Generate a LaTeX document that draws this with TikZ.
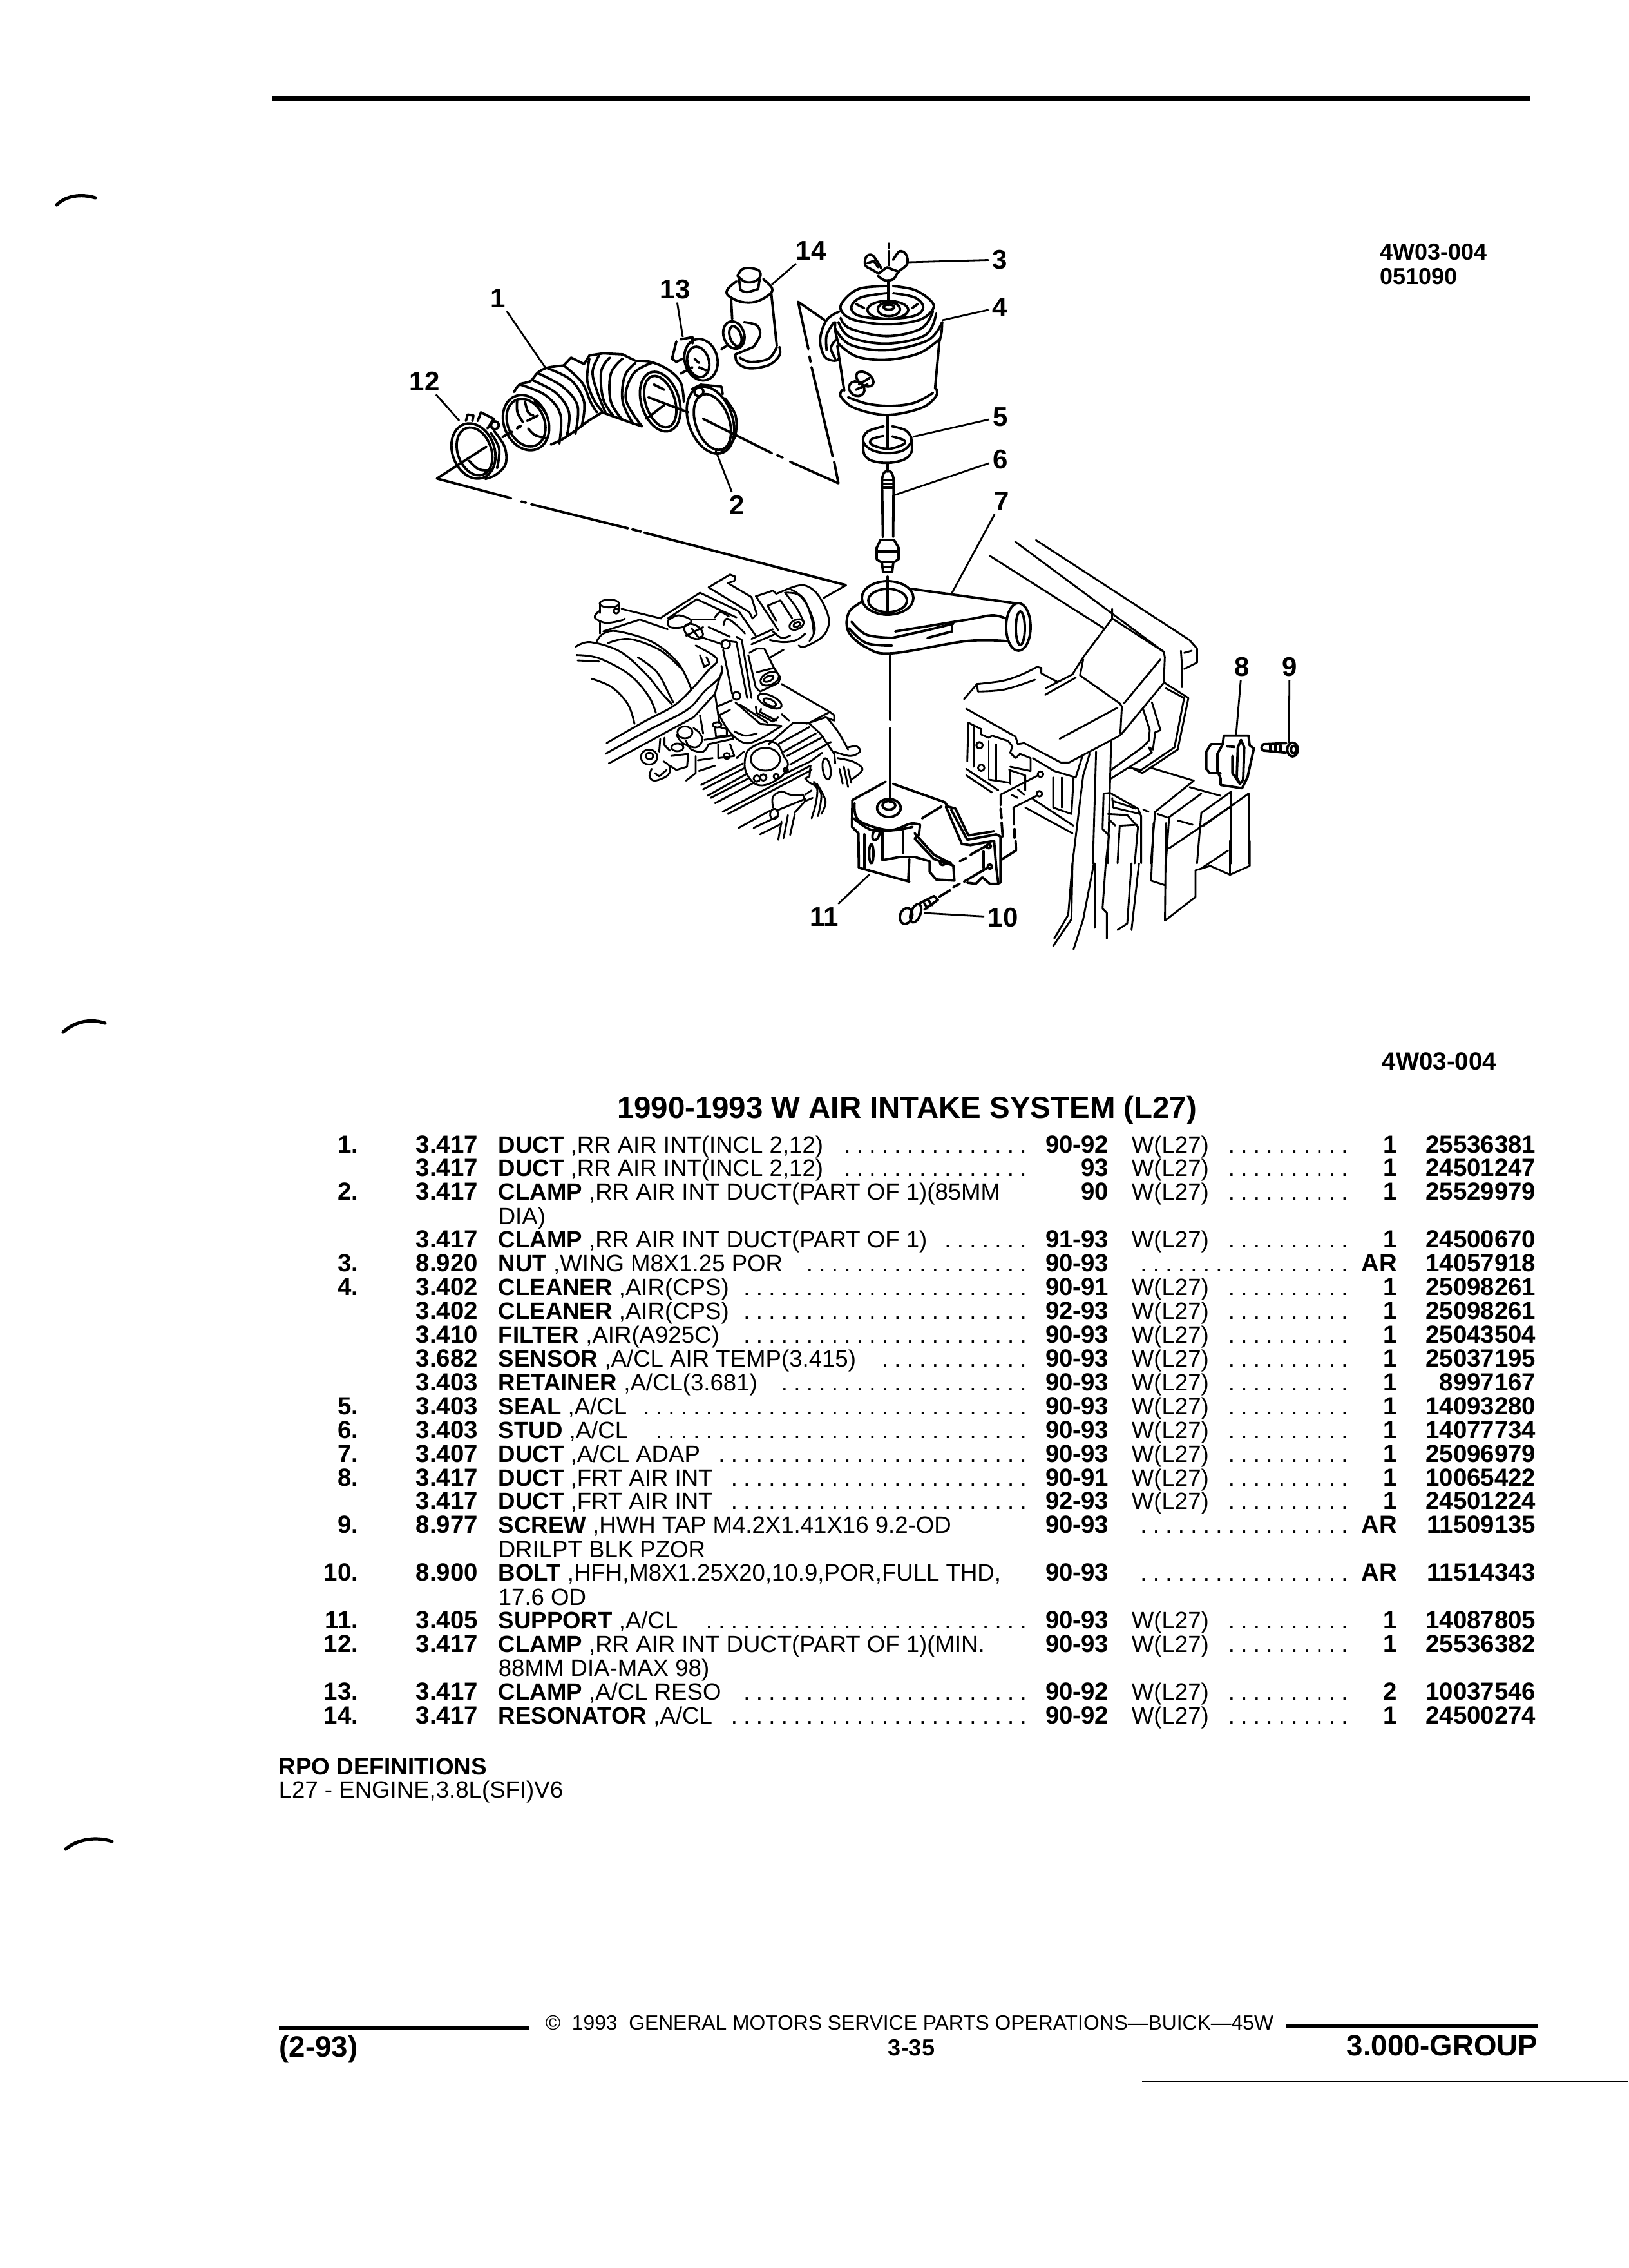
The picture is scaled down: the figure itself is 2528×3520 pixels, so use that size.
\documentclass[tikz,border=0pt]{standalone}
\usepackage{fontspec}
\setmainfont{Liberation Sans}
\newlength\dotgap
\setlength\dotgap{4.875pt}
\newcommand{\dotrun}[1]{\hbox to #1\dotgap{\cleaders\hbox to \dotgap{\hss.\hss}\hfill}}
\tikzset{
	crop/.style={shift={#1},x=0.08333pt,y=-0.08333pt},
	partline/.style={draw=black, line width=0.95pt, line cap=round, line join=round},
	fineparts/.style={partline/.style={draw=black, line width=0.72pt, line cap=round, line join=round}},
	curveline/.style={partline, smooth, tension=0.6},
	leaderline/.style={draw=black, line width=0.7pt},
	callnum/.style={inner sep=1.2pt, font=\fontsize{10.5}{12}\selectfont\bfseries},
	cell/.style={inner sep=0pt, font=\fontsize{9.15}{11}\selectfont},
	boldcell/.style={inner sep=0pt, font=\fontsize{9.6}{11}\selectfont\bfseries},
	headrule/.style={draw=black, line width=2.2pt}
}
\begin{document}
\begin{tikzpicture}[x=0.25pt, y=-0.25pt]
\useasboundingbox (0,0) rectangle (2528,3520);

% page furniture
\coordinate (topl) at (423,153);
\coordinate (topr) at (2376,153);
\draw[headrule] (topl) -- (topr);
\draw[line width=1.3pt, line cap=round] (88,318) .. controls (102,304) and (125,300) .. (148,307);
\draw[line width=1.3pt, line cap=round] (98,1602) .. controls (115,1586) and (140,1580) .. (163,1588);
\draw[line width=1.3pt, line cap=round] (102,2870) .. controls (120,2854) and (150,2850) .. (174,2858);
\node[boldcell, anchor=base west, font=\fontsize{9}{11}\selectfont\bfseries] (fig1) at (2142,404){4W03-004};
\node[boldcell, anchor=base west, font=\fontsize{9}{11}\selectfont\bfseries] (fig2) at (2142,441){051090};
\node[boldcell, anchor=base west] (fig3) at (2145,1660){4W03-004};
\node[inner sep=0pt, anchor=base, font=\fontsize{11.85}{13}\selectfont\bfseries] (title) at (1408,1735){1990-1993 W AIR INTAKE SYSTEM (L27)};

% parts list
\foreach \k/\itm/\cde/\wrd/\rst/\nd/\yrs/\wl/\nw/\qty/\prt in {
	0/1./3.417/DUCT/{,RR AIR INT(INCL 2,12)}/15/90-92/{W(L27)}/10/1/25536381,
	1/{}/3.417/DUCT/{,RR AIR INT(INCL 2,12)}/15/93/{W(L27)}/10/1/24501247,
	2/2./3.417/CLAMP/{,RR AIR INT DUCT(PART OF 1)(85MM}/0/90/{W(L27)}/10/1/25529979,
	4/{}/3.417/CLAMP/{,RR AIR INT DUCT(PART OF 1)}/7/91-93/{W(L27)}/10/1/24500670,
	5/3./8.920/NUT/{,WING M8X1.25 POR}/18/90-93/{}/17/AR/14057918,
	6/4./3.402/CLEANER/{,AIR(CPS)}/23/90-91/{W(L27)}/10/1/25098261,
	7/{}/3.402/CLEANER/{,AIR(CPS)}/23/92-93/{W(L27)}/10/1/25098261,
	8/{}/3.410/FILTER/{,AIR(A925C)}/23/90-93/{W(L27)}/10/1/25043504,
	9/{}/3.682/SENSOR/{,A/CL AIR TEMP(3.415)}/12/90-93/{W(L27)}/10/1/25037195,
	10/{}/3.403/RETAINER/{,A/CL(3.681)}/20/90-93/{W(L27)}/10/1/8997167,
	11/5./3.403/SEAL/{,A/CL}/31/90-93/{W(L27)}/10/1/14093280,
	12/6./3.403/STUD/{,A/CL}/30/90-93/{W(L27)}/10/1/14077734,
	13/7./3.407/DUCT/{,A/CL ADAP}/25/90-93/{W(L27)}/10/1/25096979,
	14/8./3.417/DUCT/{,FRT AIR INT}/24/90-91/{W(L27)}/10/1/10065422,
	15/{}/3.417/DUCT/{,FRT AIR INT}/24/92-93/{W(L27)}/10/1/24501224,
	16/9./8.977/SCREW/{,HWH TAP M4.2X1.41X16 9.2-OD}/0/90-93/{}/17/AR/11509135,
	18/10./8.900/BOLT/{,HFH,M8X1.25X20,10.9,POR,FULL THD,}/0/90-93/{}/17/AR/11514343,
	20/11./3.405/SUPPORT/{,A/CL}/26/90-93/{W(L27)}/10/1/14087805,
	21/12./3.417/CLAMP/{,RR AIR INT DUCT(PART OF 1)(MIN.}/0/90-93/{W(L27)}/10/1/25536382,
	23/13./3.417/CLAMP/{,A/CL RESO}/23/90-92/{W(L27)}/10/2/10037546,
	24/14./3.417/RESONATOR/{,A/CL}/24/90-92/{W(L27)}/10/1/24500274}{
	\pgfmathsetmacro{\rowy}{1789+36.93*\k}
	\node[boldcell, anchor=base east] (itm\k) at (557,\rowy){\itm};
	\node[boldcell, anchor=base west] (cde\k) at (645,\rowy){\cde};
	\node[cell, anchor=base west] (dsc\k) at (773,\rowy){\textbf{\wrd} \rst};
	\node[cell, anchor=base east] (lead\k) at (1599,\rowy){\dotrun{\nd}};
	\node[boldcell, anchor=base east] (yrs\k) at (1722,\rowy){\yrs};
	\node[cell, anchor=base west] (wl\k) at (1756,\rowy){\wl};
	\node[cell, anchor=base east] (rest\k) at (2098,\rowy){\dotrun{\nw}};
	\node[boldcell, anchor=base east] (qty\k) at (2170,\rowy){\qty};
	\node[boldcell, anchor=base east] (prt\k) at (2385,\rowy){\prt};
}
\node[cell, anchor=base west] (more3) at (773,1900){DIA)};
\node[cell, anchor=base west] (more17) at (773,2417){DRILPT BLK PZOR};
\node[cell, anchor=base west] (more19) at (773,2491){17.6 OD};
\node[cell, anchor=base west] (more22) at (773,2601){88MM DIA-MAX 98)};

\node[boldcell, anchor=base west, font=\fontsize{9.2}{11}\selectfont\bfseries] (rpo1) at (432,2754){RPO DEFINITIONS};
\node[cell, anchor=base west] (rpo2) at (432,2790){L27 - ENGINE,3.8L(SFI)V6};

% footer
\coordinate (foota) at (433,3147);
\coordinate (footb) at (822,3147);
\coordinate (footc) at (1996,3144);
\coordinate (footd) at (2388,3144);
\coordinate (foote) at (1773,3231);
\coordinate (footf) at (2528,3231);
\draw[line width=1.3pt] (foota) -- (footb);
\draw[line width=1.3pt] (footc) -- (footd);
\draw[line width=0.5pt] (foote) -- (footf);
\node[cell, anchor=base west, font=\fontsize{7.95}{10}\selectfont] (copy) at (846,3150){\textcopyright\ \ 1993\ \ GENERAL MOTORS SERVICE PARTS OPERATIONS---BUICK---45W};
\node[inner sep=0pt, anchor=base west, font=\fontsize{11.4}{12}\selectfont\bfseries] (issue) at (433,3192){(2-93)};
\node[inner sep=0pt, anchor=base, font=\fontsize{9}{10}\selectfont\bfseries] (page) at (1415,3190){3-35};
\node[inner sep=0pt, anchor=base east, font=\fontsize{11.4}{13}\selectfont\bfseries] (group) at (2388,3190){3.000-GROUP};

% callouts
\node[callnum] (n1) at (773,463){1};
\node[callnum] (n2) at (1144,784){2};
\node[callnum] (n3) at (1552,403){3};
\node[callnum] (n4) at (1552,477){4};
\node[callnum] (n5) at (1553,647){5};
\node[callnum] (n6) at (1553,713){6};
\node[callnum] (n7) at (1555,778){7};
\node[callnum] (n8) at (1928,1035){8};
\node[callnum] (n9) at (2002,1035){9};
\node[callnum] (n10) at (1557,1424){10};
\node[callnum] (n11) at (1280,1423){11};
\node[callnum] (n12) at (659,592){12};
\node[callnum] (n13) at (1048,449){13};
\node[callnum] (n14) at (1259,389){14};
\coordinate (t1) at (847,571);
\coordinate (t2) at (1111,699);
\coordinate (t3) at (1410,407);
\coordinate (t4) at (1463,497);
\coordinate (t5) at (1417,678);
\coordinate (t6) at (1390,768);
\coordinate (t7) at (1477,922);
\coordinate (t8) at (1919,1140);
\coordinate (t9) at (2001,1153);
\coordinate (t10) at (1435,1417);
\coordinate (t11) at (1350,1357);
\coordinate (t12) at (713,653);
\coordinate (t13) at (1060,523);
\coordinate (t14) at (1198,442);
\foreach \i in {1,...,14}{
	\draw[leaderline] (n\i) -- (t\i);
}

% hose, clamps 12 and 13
\begin{scope}[crop={(620,360)}]
	\draw[partline] (345,1020) ellipse [x radius=132, y radius=98, rotate=-70];
	\draw[partline] (350,1022) ellipse [x radius=115, y radius=78, rotate=-70];
	\draw[curveline] plot coordinates {(440,925) (490,1000) (495,1080) (450,1130) (400,1150)};
	\draw[curveline] plot coordinates {(425,935) (465,1010) (455,1100)};
	\draw[partline] (310,880) -- (318,850) -- (345,855) -- (340,880);
	\draw[partline] (365,880) -- (380,840) -- (440,870) -- (410,915);
	\draw[partline] (445,900) circle [radius=18];
	\draw[curveline] plot coordinates {(325,1065) (370,1105) (430,1110)};
	% duct mouth and ribs
	\draw[partline] (590,888) ellipse [x radius=133, y radius=102, rotate=-66];
	\draw[partline] (590,888) ellipse [x radius=115, y radius=85, rotate=-66];
	\draw[curveline] plot coordinates {(548,790) (550,840) (575,885)};
	\draw[curveline] plot coordinates {(585,790) (600,840) (625,855)};
	\draw[curveline] plot coordinates {(600,915) (630,945) (680,960)};
	\draw[curveline] plot coordinates {(630,790) (665,820) (680,845)};
	\draw[partline] (595,880) -- (645,855);
	\draw[partline] (550,910) -- (565,902);
	\draw[curveline] plot coordinates {(535,745) (560,710) (610,695) (645,655) (690,632) (765,622)};
	\draw[partline] (765,622) -- (800,585) -- (860,615) -- (885,575) -- (950,565) -- (1040,570) -- (1100,600);
	\draw[curveline] plot coordinates {(1100,600) (1170,605) (1250,640) (1310,700) (1325,790)};
	\draw[curveline] plot coordinates {(705,990) (760,965) (820,925) (880,880) (945,840)};
	\draw[curveline] plot coordinates {(945,840) (1000,860) (1070,885) (1130,905)};
	\draw[curveline] plot coordinates {(560,710) (680,760) (750,850) (745,985)};
	\draw[curveline] plot coordinates {(620,690) (730,750) (790,840) (780,950)};
	\draw[curveline] plot coordinates {(650,660) (760,720) (830,810) (820,940)};
	\draw[curveline] plot coordinates {(690,635) (800,690) (860,790) (850,900)};
	\draw[curveline] plot coordinates {(770,625) (850,700) (890,790) (920,840)};
	\draw[curveline] plot coordinates {(885,590) (875,690) (905,780) (945,835)};
	\draw[curveline] plot coordinates {(930,575) (900,650) (920,740) (960,840)};
	\draw[curveline] plot coordinates {(980,585) (940,650) (950,780) (1000,860)};
	\draw[curveline] plot coordinates {(1040,590) (985,660) (985,790) (1040,875)};
	\draw[curveline] plot coordinates {(1100,610) (1050,670) (1040,790) (1090,895)};
	\draw[curveline] plot coordinates {(1175,610) (1090,660) (1055,780) (1130,905)};
	\draw[partline] (1215,790) ellipse [x radius=143, y radius=88, rotate=-72];
	\draw[partline] (1215,790) ellipse [x radius=124, y radius=68, rotate=-72];
	\draw[partline] (1185,710) -- (1235,735);
	\draw[partline] (1150,870) -- (1235,805);
	\draw[partline] (1160,770) -- (1345,840);
	% clamp 13
	\draw[partline] (1405,595) ellipse [x radius=98, y radius=76, rotate=-75];
	\draw[partline] (1392,605) ellipse [x radius=72, y radius=50, rotate=-75];
	\draw[partline] (1290,510) -- (1270,590) -- (1290,605) -- (1320,590);
	\draw[partline] (1310,500) -- (1365,490) -- (1365,520);
	\draw[partline] (1310,660) -- (1365,630);
	\draw[partline] (1375,590) -- (1395,610);
	\draw[partline] (1395,630) -- (1430,645);
	% phantom axis for the hose
	\coordinate (axa) at (175,1148);
	\coordinate (axb) at (405,1000);
	\draw[partline] (axa) -- (axb);
	\draw[partline] (480,955) -- (525,930);
	\draw[partline] (548,915) -- (565,905);
	\draw[partline] (axa) -- (520,1240);
	\draw[partline] (568,1255) -- (590,1260);
	\draw[partline] (615,1268) -- (1065,1380);
	\draw[partline] (1085,1385) -- (1125,1395);
	\draw[partline] (1140,1400) -- (2079,1644);
\end{scope}

% clamp 2
\draw[partline] (1103,652) ellipse [x radius=54, y radius=34, rotate=-70];
\draw[partline] (1106,655) ellipse [x radius=45, y radius=26, rotate=-70];
\draw[partline] (1074,604) -- (1088,597) -- (1120,600) -- (1122,612);
\draw[partline] (1085,608) circle [radius=7];
\draw[curveline] plot coordinates {(1125,618) (1142,645) (1140,680) (1120,700)};

% resonator, cleaner, nut, seal, stud
\begin{scope}[crop={(1120,340)}]
	\draw[curveline] plot coordinates {(75,265) (95,235) (130,228) (175,240) (180,270) (150,292) (110,292) (75,265)};
	\draw[partline] (82,280) -- (88,325);
	\draw[partline] (178,280) -- (172,320);
	\draw[curveline] plot coordinates {(70,290) (30,325) (30,355) (90,385) (160,385) (225,350) (235,320) (195,280)};
	\draw[curveline] plot coordinates {(88,330) (120,340) (172,325)};
	\draw[partline] (45,375) -- (50,465);
	\draw[partline] (232,345) -- (258,590);
	\draw[curveline] plot coordinates {(65,630) (75,670) (130,695) (220,680) (270,635) (270,595)};
	\draw[curveline] plot coordinates {(85,645) (135,665) (220,650) (258,595)};
	\draw[partline] (58,540) ellipse [x radius=65, y radius=48, rotate=-72];
	\draw[partline] (65,545) ellipse [x radius=48, y radius=26, rotate=-72];
	\draw[curveline] plot coordinates {(105,480) (165,495) (180,540) (150,595)};
	\draw[partline] (150,595) -- (65,630);
	\draw[partline] (0,605) -- (25,590);
	% cleaner top
	\draw[curveline] plot coordinates {(770,312) (640,325) (565,385) (560,430) (620,470) (770,490) (920,470) (985,420) (975,380) (900,330) (800,312)};
	\draw[curveline] plot coordinates {(770,345) (650,365) (605,410) (640,450) (770,465) (900,450) (940,410) (900,365) (800,345)};
	\draw[partline] (775,423) ellipse [x radius=95, y radius=42];
	\draw[partline] (780,420) ellipse [x radius=52, y radius=32];
	\draw[partline] (780,410) ellipse [x radius=25, y radius=12];
	\draw[partline] (625,395) -- (665,415);
	\draw[partline] (915,395) -- (888,415);
	\draw[curveline] plot coordinates {(555,460) (600,510) (770,545) (930,510) (985,430)};
	\draw[curveline] plot coordinates {(545,480) (600,550) (770,580) (950,540) (1000,440)};
	\draw[curveline] plot coordinates {(530,510) (600,585) (770,610) (960,565) (1028,480)};
	\draw[curveline] plot coordinates {(545,580) (630,640) (770,655) (920,625) (1015,560)};
	\draw[curveline] plot coordinates {(1028,480) (1025,530) (1015,570)};
	\draw[curveline] plot coordinates {(530,480) (530,520) (545,580)};
	\draw[partline] (540,590) -- (572,800);
	\draw[partline] (1015,570) -- (995,790);
	\draw[curveline] plot coordinates {(565,795) (555,825) (620,880) (770,912) (930,880) (1000,825) (1000,790)};
	\draw[curveline] plot coordinates {(590,830) (680,860) (790,870) (900,855) (985,810)};
	\draw[curveline] plot coordinates {(550,430) (490,470) (460,560) (480,640) (525,660) (548,650)};
	\draw[curveline] plot coordinates {(525,480) (490,540) (490,610)};
	\draw[curveline] plot coordinates {(535,560) (510,600) (530,650)};
	\draw[partline] (668,745) ellipse [x radius=45, y radius=28, rotate=-35];
	\draw[partline] (630,790) ellipse [x radius=38, y radius=32, rotate=-35];
	\draw[partline] (625,795) -- (680,770);
	\draw[partline] (640,770) -- (690,740);
	% wing nut
	\draw[curveline] plot coordinates {(745,230) (705,170) (675,175) (670,215) (700,235) (735,255)};
	\draw[curveline] plot coordinates {(730,265) (760,285) (800,280) (825,245) (865,210) (860,165) (830,150) (800,190)};
	\draw[partline] (680,205) -- (710,195) -- (730,225);
	\draw[partline] (730,255) -- (770,225) -- (825,245);
	\draw[partline] (780,115) -- (780,135);
	\draw[partline] (780,150) -- (780,215);
	\draw[partline] (778,285) -- (778,400);
	% seal
	\draw[curveline] plot coordinates {(755,965) (680,990) (660,1035) (700,1075) (775,1090) (850,1075) (885,1030) (860,985) (795,965)};
	\draw[curveline] plot coordinates {(755,1010) (700,1025) (700,1050) (775,1070) (845,1050) (850,1030) (795,1012)};
	\draw[curveline] plot coordinates {(660,1040) (665,1095) (700,1125) (775,1135) (850,1120) (885,1085) (885,1030)};
	\draw[partline] (775,920) -- (775,1065);
	% stud
	\draw[partline] (775,1140) -- (775,1175);
	\draw[curveline] plot coordinates {(748,1210) (760,1178) (790,1178) (802,1210)};
	\draw[partline] (748,1210) -- (752,1480);
	\draw[partline] (802,1210) -- (800,1480);
	\draw[partline] (752,1215) -- (798,1215);
	\draw[partline] (752,1232) -- (798,1232);
	\draw[partline] (752,1250) -- (798,1250);
	% phantom axis for the cleaner
	\draw[partline] (-85,930) -- (235,1090);
	\draw[partline] (260,1100) -- (285,1110);
	\draw[partline] (320,1130) -- (545,1230) -- (525,1130);
	\draw[partline] (518,1105) -- (420,690);
	\draw[partline] (415,665) -- (410,640);
	\draw[partline] (405,605) -- (357,385) -- (480,470);
\end{scope}

% lower end of stud
\draw[partline] (1367,838) -- (1361,850) -- (1361,868) -- (1367,872) -- (1389,872) -- (1395,868) -- (1395,850) -- (1388,838) -- cycle;
\draw[partline] (1361,856) -- (1395,856);
\draw[partline] (1369,872) -- (1371,888) -- (1385,888) -- (1387,872);
\draw[partline] (1371,880) -- (1385,880);
\draw[partline] (1378,895) -- (1378,950);

% adapter duct and engine
\begin{scope}[crop={(880,880)}, fineparts]
	\draw[partline] (970,0) -- (1300,85) -- (1195,145);
	% throttle body
	\draw[curveline] plot coordinates {(1035,100) (1105,85) (1170,130) (1220,240) (1195,320) (1110,370) (1080,365)};
	\draw[curveline] plot coordinates {(1015,120) (1080,130) (1130,200) (1155,290) (1130,345)};
	\draw[curveline] plot coordinates {(1045,105) (1105,150) (1140,240) (1150,310)};
	\draw[curveline] plot coordinates {(1020,125) (1070,190) (1105,260)};
	\draw[partline] (885,135) -- (960,110) -- (975,125) -- (1035,100);
	\draw[partline] (935,180) -- (995,155) -- (1050,240);
	\draw[partline] (935,180) -- (975,250);
	\draw[partline] (1070,268) ellipse [x radius=35, y radius=22, rotate=25];
	\draw[partline] (1072,268) ellipse [x radius=18, y radius=10, rotate=25];
	% bracket
	\draw[partline] (660,95) -- (760,35) -- (785,45) -- (780,65) -- (750,75);
	\draw[partline] (750,75) -- (860,140) -- (885,220) -- (865,240) -- (850,210);
	\draw[partline] (660,95) -- (850,210);
	\draw[partline] (620,120) -- (800,205) -- (880,320);
	\draw[partline] (440,235) -- (620,120);
	\draw[partline] (470,240) -- (605,150) -- (790,235);
	\draw[partline] (880,135) -- (985,295);
	\draw[partline] (860,335) -- (960,290);
	\draw[partline] (860,360) -- (975,310);
	\draw[curveline] plot coordinates {(945,340) (1010,350) (1070,340) (1110,310)};
	\draw[curveline] plot coordinates {(960,300) (1000,330) (1040,320)};
	\draw[curveline] plot coordinates {(690,235) (715,210) (755,230)};
	\draw[curveline] plot coordinates {(730,270) (745,240) (790,270) (830,310)};
	% bolt and rail
	\draw[partline] (198,170) ellipse [x radius=45, y radius=18];
	\draw[partline] (155,170) -- (155,215);
	\draw[partline] (243,170) -- (243,200);
	\draw[curveline] plot coordinates {(150,205) (130,235) (180,260) (250,250) (270,240)};
	\draw[partline] (155,260) -- (155,310);
	\draw[partline] (230,205) circle [radius=12];
	\draw[partline] (255,195) -- (440,240);
	\draw[partline] (170,300) -- (340,245) -- (470,290);
	\draw[curveline] plot coordinates {(470,250) (520,225) (580,250) (540,280) (480,280) (470,250)};
	\draw[partline] (585,245) -- (690,245);
	\draw[partline] (590,300) ellipse [x radius=48, y radius=30, rotate=-30];
	\draw[partline] (580,285) -- (615,330);
	\draw[partline] (555,320) -- (635,280);
	% plenum arcs
	\draw[curveline] plot coordinates {(40,372) (110,350) (250,395) (370,500) (435,580) (490,640)};
	\draw[curveline] plot coordinates {(45,410) (150,425) (290,500) (380,600) (415,680)};
	\draw[partline] (50,435) -- (150,440);
	\draw[curveline] plot coordinates {(115,520) (210,560) (285,640) (315,730)};
	\draw[curveline] plot coordinates {(140,345) (170,310) (240,300) (400,350) (520,450) (580,570)};
	\draw[curveline] plot coordinates {(190,355) (290,335) (430,385) (530,470)};
	\draw[curveline] plot coordinates {(330,420) (420,490) (480,600) (495,630)};
	% long tube
	\draw[curveline] plot coordinates {(185,820) (360,720) (500,645) (590,560) (660,480) (700,440) (680,410) (600,365)};
	\draw[curveline] plot coordinates {(180,870) (380,760) (560,665) (640,580) (715,510) (720,460)};
	\draw[partline] (195,915) -- (590,700) -- (690,590) -- (720,490);
	\draw[partline] (620,410) -- (640,465) -- (665,450) -- (650,420);
	% link
	\draw[partline] (740,360) circle [radius=20];
	\draw[partline] (728,385) -- (770,590);
	\draw[partline] (755,345) -- (790,350) -- (840,610);
	\draw[partline] (790,325) -- (815,340) -- (860,610);
	\draw[partline] (620,325) -- (725,360);
	\draw[partline] (660,280) -- (760,325);
	\draw[partline] (790,600) circle [radius=18];
	% bracket foot
	\draw[partline] (850,400) -- (885,380) -- (920,380) -- (965,470) -- (995,515) -- (985,540) -- (900,580) -- (880,560) -- (845,410);
	\draw[partline] (940,425) -- (1010,385);
	\draw[partline] (885,490) -- (965,470);
	\draw[partline] (945,520) ellipse [x radius=46, y radius=28, rotate=25];
	\draw[partline] (940,520) ellipse [x radius=24, y radius=12, rotate=25];
	\draw[partline] (1000,545) -- (1225,675) -- (1245,690) -- (1245,715) -- (1205,700) -- (1115,730);
	\draw[partline] (1225,675) -- (1130,725);
	\draw[partline] (785,630) -- (900,730) -- (1000,740);
	\draw[partline] (805,640) -- (935,725);
	\draw[partline] (700,650) -- (770,620);
	\draw[partline] (710,690) -- (760,665);
	\draw[partline] (690,590) -- (710,720);
	\draw[partline] (620,690) -- (635,775);
	\draw[curveline] plot coordinates {(710,690) (760,770) (830,820) (900,800) (1000,740)};
	\draw[curveline] plot coordinates {(780,765) (830,785) (885,775)};
	% oil cap
	\draw[partline] (945,625) ellipse [x radius=60, y radius=26, rotate=-25];
	\draw[partline] (945,630) ellipse [x radius=32, y radius=14, rotate=-25];
	\draw[partline] (880,650) -- (885,680) -- (960,720) -- (985,700);
	\draw[partline] (905,660) -- (900,675) -- (975,715);
	\draw[partline] (1000,685) -- (1035,715);
	% injectors
	\draw[partline] (550,770) ellipse [x radius=35, y radius=28];
	\draw[curveline] plot coordinates {(510,780) (540,820) (600,840) (630,810) (620,775) (590,750)};
	\draw[curveline] plot coordinates {(555,810) (580,850) (635,860) (660,825)};
	\draw[partline] (515,840) ellipse [x radius=28, y radius=18];
	\draw[partline] (383,885) ellipse [x radius=38, y radius=35];
	\draw[partline] (385,880) ellipse [x radius=18, y radius=15];
	\draw[curveline] plot coordinates {(395,940) (385,975) (410,995) (470,970) (480,930) (450,905)};
	\draw[partline] (410,960) -- (430,975) -- (465,945);
	\draw[partline] (435,800) -- (430,860);
	\draw[partline] (455,795) -- (455,830) -- (480,855);
	\draw[partline] (485,880) -- (565,870) -- (560,930) -- (510,945) -- (480,925);
	\draw[partline] (600,880) -- (600,960) -- (555,995);
	\draw[partline] (610,900) -- (680,890);
	\draw[partline] (615,950) -- (690,925);
	\draw[partline] (640,805) -- (770,785) -- (775,800) -- (660,825);
	\draw[partline] (700,735) ellipse [x radius=20, y radius=12];
	\draw[partline] (690,745) -- (695,790) -- (745,785) -- (745,755) -- (710,745);
	\draw[partline] (705,825) -- (705,890) -- (780,880) -- (760,825);
	\draw[partline] (745,880) circle [radius=14];
	\draw[partline] (790,890) -- (825,860);
	% cam gear and fins
	\draw[partline] (925,895) ellipse [x radius=68, y radius=53];
	\draw[curveline] plot coordinates {(890,825) (840,860) (830,940) (870,1005) (925,1015) (1000,975) (1030,920) (1010,880) (985,830) (940,810) (890,825)};
	\draw[partline] (885,985) circle [radius=15];
	\draw[partline] (915,980) circle [radius=15];
	\draw[partline] (975,975) circle [radius=12];
	\draw[partline] (1020,945) circle [radius=10];
	\draw[partline] (985,825) -- (1130,745);
	\draw[partline] (1010,860) -- (1160,775);
	\draw[partline] (1025,880) -- (1195,790);
	\draw[partline] (1040,920) -- (1230,815);
	\draw[partline] (940,825) -- (1055,725) -- (1125,725);
	\draw[partline] (1125,725) -- (1180,775) -- (1245,870);
	\draw[partline] (625,1015) -- (820,915);
	\draw[partline] (635,1035) -- (830,935);
	\draw[partline] (655,1065) -- (835,965);
	\draw[partline] (670,1075) -- (845,985);
	\draw[partline] (690,1100) -- (870,1005);
	\draw[partline] (725,1140) -- (1135,925);
	\draw[partline] (750,1150) -- (1140,945);
	\draw[partline] (1020,960) -- (1135,905) -- (1190,865);
	% hose at right
	\draw[curveline] plot coordinates {(1215,705) (1265,770) (1310,850)};
	\draw[curveline] plot coordinates {(1245,860) (1320,880) (1365,860) (1350,835) (1310,840)};
	\draw[partline] (1245,860) -- (1250,915);
	\draw[curveline] plot coordinates {(1260,890) (1330,905) (1375,935) (1365,960) (1325,990)};
	\draw[partline] (1270,940) -- (1285,1010);
	\draw[partline] (1290,930) -- (1310,1025);
	\draw[partline] (1310,940) -- (1325,1005);
	\draw[partline] (1210,940) ellipse [x radius=18, y radius=50, rotate=8];
	\draw[partline] (1135,925) -- (1130,975) -- (1110,985) -- (1130,1005);
	% lower tube
	\draw[curveline] plot coordinates {(1130,1005) (1165,1030) (1160,1100) (1140,1170)};
	\draw[curveline] plot coordinates {(1150,1000) (1185,1060) (1170,1160)};
	\draw[curveline] plot coordinates {(1165,1010) (1205,1090) (1185,1150)};
	\draw[partline] (965,1150) ellipse [x radius=18, y radius=24, rotate=-10];
	\draw[curveline] plot coordinates {(960,1120) (960,1070) (1000,1045) (1040,1060) (1100,1060)};
	\draw[partline] (975,1135) -- (1110,1080);
	\draw[partline] (1100,1060) -- (1110,1090) -- (1060,1145);
	\draw[partline] (1110,1060) -- (1140,1040);
	\draw[partline] (1110,1090) -- (1145,1075);
	\draw[partline] (800,1215) -- (945,1135);
	\draw[partline] (870,1215) -- (985,1160);
	\draw[partline] (900,1245) -- (1000,1195);
	\draw[partline] (1000,1185) -- (985,1270);
	\draw[partline] (1030,1155) -- (1010,1262);
	\draw[partline] (1062,1150) -- (1040,1248);
\end{scope}

\draw[partline] (1378,928) ellipse [x radius=40, y radius=26];
\draw[partline] (1378,932) ellipse [x radius=30, y radius=18];
\draw[curveline] plot coordinates {(1340,933) (1318,950) (1317,980) (1345,1005) (1385,1014) (1500,995) (1562,995)};
\draw[curveline] plot coordinates {(1322,965) (1345,985) (1385,990)};
\draw[curveline] plot coordinates {(1318,975) (1345,998) (1385,1002)};
\draw[partline] (1385,990) -- (1440,978) -- (1480,968);
\draw[partline] (1440,990) -- (1478,980) -- (1478,968);
\draw[partline] (1415,914) -- (1575,936);
\draw[curveline] plot coordinates {(1390,980) (1500,962) (1540,955) (1562,960)};
\draw[partline] (1581,973) ellipse [x radius=19, y radius=37];
\draw[partline] (1584,975) ellipse [x radius=7, y radius=26];
\draw[partline] (1382,1018) -- (1382,1117);
\draw[partline] (1382,1130) -- (1382,1245);

% body side at right
\begin{scope}[crop={(1500,820)}, fineparts]
	\draw[partline] (110,128) -- (640,465);
	\draw[partline] (228,62) -- (920,575) -- (925,600) -- (920,720);
	\draw[partline] (325,55) -- (1040,520) -- (1075,560) -- (1075,625) -- (1015,655);
	\draw[partline] (1015,580) -- (1050,570);
	\draw[partline] (680,375) -- (680,420) -- (920,575);
	\draw[partline] (680,420) -- (545,600) -- (495,680);
	\draw[partline] (545,610) -- (530,685) -- (715,815) -- (725,830) -- (718,955);
	\draw[partline] (495,680) -- (370,745);
	\draw[partline] (510,695) -- (368,775);
	\draw[partline] (920,720) -- (730,950) -- (715,965) -- (480,1090) -- (440,1090) -- (270,1000) -- (240,1005) -- (230,970) -- (0,840);
	\draw[partline] (905,610) -- (735,815);
	\draw[partline] (705,835) -- (435,980);
	\draw[curveline] plot coordinates {(1000,570) (1005,650) (1005,740)};
	\draw[partline] (925,720) -- (1035,790) -- (985,1030) -- (820,1140) -- (780,1120);
	\draw[partline] (930,745) -- (1015,790) -- (970,1020) -- (815,1125) -- (760,1115);
	\draw[partline] (825,845) -- (855,940) -- (850,990) -- (820,1020) -- (675,1125);
	\draw[partline] (865,810) -- (905,940) -- (880,950) -- (870,1030) -- (850,1020) -- (865,1045) -- (675,1165);
	% duct top
	\draw[curveline] plot coordinates {(50,725) (170,710) (260,680) (330,645)};
	\draw[partline] (330,645) -- (350,650) -- (350,675) -- (425,715);
	\draw[partline] (50,725) -- (55,760);
	\draw[curveline] plot coordinates {(55,760) (180,750) (320,705)};
	\draw[partline] (50,725) -- (-10,795);
	% pipes
	\draw[partline] (675,990) -- (660,1560);
	\draw[partline] (605,1040) -- (590,1560);
	\draw[partline] (575,1050) -- (545,1150) -- (495,1560);
	\draw[partline] (540,1065) -- (510,1160);
	% plate
	\draw[partline] (10,905) -- (5,1085);
	\draw[partline] (10,905) -- (40,920) -- (70,935) -- (70,960) -- (105,975) -- (120,965) -- (195,990) -- (215,1015) -- (205,1045) -- (230,1070) -- (250,1050) -- (300,1070);
	\draw[partline] (35,920) -- (35,1110);
	\draw[partline] (62,1010) circle [radius=15];
	\draw[partline] (70,1115) circle [radius=15];
	\draw[partline] (105,990) -- (105,1165);
	\draw[partline] (140,1005) -- (140,1170);
	\draw[partline] (105,1170) -- (205,1185);
	\draw[partline] (205,1125) -- (205,1190);
	\draw[partline] (205,1110) -- (300,1130) -- (300,1070);
	\draw[partline] (200,1125) -- (275,1150) -- (275,1220);
	\draw[partline] (0,1120) -- (150,1220);
	\draw[partline] (0,1150) -- (120,1230);
	\draw[partline] (210,1240) -- (240,1255);
	\draw[partline] (240,1215) -- (270,1240);
	\draw[partline] (275,1300) -- (495,1420);
	\draw[partline] (310,1260) -- (500,1385);
	\draw[partline] (310,1070) -- (410,1130) -- (510,1160);
	\draw[partline] (405,1160) -- (405,1300) -- (490,1330) -- (500,1165);
	\draw[partline] (445,1160) -- (445,1300);
	% holes and phantom lines
	\draw[partline] (346,1145) circle [radius=13];
	\draw[partline] (341,1236) circle [radius=13];
	\draw[partline] (335,1150) -- (160,1240) -- (160,1290);
	\draw[partline] (328,1245) -- (220,1300) -- (222,1380);
	% filter housing
	\draw[partline] (670,1232) -- (640,1235) -- (635,1400) -- (665,1430) -- (650,1560);
	\draw[partline] (670,1232) -- (800,1305) -- (815,1340) -- (815,1560);
	\draw[partline] (680,1255) -- (685,1300) -- (810,1330);
	\draw[partline] (685,1270) -- (790,1305);
	\draw[partline] (660,1330) -- (750,1335) -- (800,1390) -- (785,1560);
	\draw[partline] (715,1385) -- (795,1380);
	\draw[partline] (715,1385) -- (705,1560);
	\draw[partline] (665,1355) -- (695,1385);
	% filter box
	\draw[partline] (860,1115) -- (1060,1175) -- (880,1320) -- (860,1560);
	\draw[partline] (1040,1205) -- (1185,1245);
	\draw[partline] (825,1310) -- (850,1320);
	\draw[partline] (890,1330) -- (935,1345);
	\draw[partline] (945,1345) -- (1095,1235);
	\draw[partline] (945,1345) -- (930,1560);
	\draw[partline] (985,1360) -- (1055,1380);
	\draw[partline] (1235,1225) -- (1095,1325) -- (1075,1560);
	\draw[partline] (1235,1225) -- (1235,1560);
	\draw[partline] (1315,1235) -- (1105,1385);
	\draw[partline] (1315,1235) -- (1315,1560);
	\draw[partline] (945,1490) -- (1225,1300);
	\draw[partline] (1220,1500) -- (1085,1590);
\end{scope}

% parts 8 and 9
\begin{scope}[crop={(1500,820)}]
	\draw[partline] (1255,965) -- (1200,965) -- (1195,1005) -- (1170,1050) -- (1170,1130) -- (1185,1165) -- (1185,1195) -- (1285,1210) -- (1310,1160) -- (1340,1025) -- (1320,1010) -- (1315,965) -- cycle;
	\draw[partline] (1195,1005) -- (1140,1005) -- (1118,1040) -- (1118,1120) -- (1135,1140) -- (1185,1140);
	\draw[partline] (1280,985) -- (1295,1020) -- (1290,1170) -- (1275,1190) -- (1260,1160) -- (1265,1020) -- cycle;
	\draw[partline] (1215,1015) -- (1250,1018);
	\draw[partline] (1240,1060) -- (1240,1140) -- (1275,1190);
	\draw[partline] (1385,1005) -- (1490,1000);
	\draw[partline] (1385,1035) -- (1490,1045);
	\draw[partline] (1385,1005) .. controls (1370,1015) and (1375,1030) .. (1385,1035);
	\draw[partline] (1415,1010) -- (1415,1035);
	\draw[partline] (1440,1010) -- (1440,1038);
	\draw[partline] (1465,1010) -- (1465,1040);
	\draw[partline] (1520,1030) ellipse [x radius=25, y radius=32];
	\draw[partline] (1525,1030) ellipse [x radius=12, y radius=18];
\end{scope}

% support, bolt 10, lower pipes
\begin{scope}[crop={(1280,1180)}]
	\draw[partline] (130,185) -- (285,100);
	\draw[partline] (320,110) -- (560,195) -- (575,215) -- (610,225) -- (670,350) -- (790,330);
	\draw[curveline] plot coordinates {(140,200) (160,280) (300,325) (400,295) (445,300)};
	\draw[curveline] plot coordinates {(135,270) (220,325) (330,325) (410,310)};
	\draw[partline] (445,300) -- (440,345) -- (420,365) -- (510,460) -- (600,490) -- (605,560) -- (520,555) -- (490,520) -- (490,470) -- (420,450) -- (350,450) -- (270,465) -- (270,330);
	\draw[partline] (130,185) -- (128,310) -- (158,340) -- (160,500) -- (395,565);
	\draw[partline] (395,460) -- (390,565);
	\draw[partline] (185,345) -- (185,505);
	\draw[partline] (420,340) -- (510,440) -- (590,480);
	\draw[partline] (218,435) ellipse [x radius=10, y radius=45];
	\draw[partline] (240,345) ellipse [x radius=15, y radius=28, rotate=-20];
	\draw[partline] (365,330) -- (365,430);
	\draw[partline] (300,222) ellipse [x radius=55, y radius=42];
	\draw[partline] (300,210) ellipse [x radius=30, y radius=20];
	\draw[partline] (455,270) -- (545,215);
	\draw[partline] (550,475) circle [radius=13];
	\draw[partline] (565,215) -- (640,390) -- (680,395) -- (790,375) -- (800,500) -- (810,575) -- (770,575) -- (735,545) -- (705,575) -- (665,570);
	\draw[partline] (590,230) -- (665,370) -- (800,345) -- (820,355) -- (820,570);
	\draw[partline] (740,425) -- (740,500);
	\draw[partline] (765,400) circle [radius=10];
	\draw[partline] (770,495) circle [radius=10];
	\draw[partline] (630,470) -- (660,455);
	\draw[partline] (680,440) -- (760,395);
	\draw[partline] (650,565) -- (760,500);
	\draw[partline] (600,590) -- (630,575);
	\draw[partline] (535,635) -- (585,605);
	% phantom lines from the holes
	\draw[partline] (820,225) -- (825,270);
	\draw[partline] (825,290) -- (830,355);
	\draw[partline] (885,320) -- (885,360);
	\draw[partline] (890,375) -- (892,420) -- (820,465);
	% bolt 10
	\draw[partline] (380,725) ellipse [x radius=28, y radius=38, rotate=-20];
	\draw[partline] (425,712) ellipse [x radius=22, y radius=45, rotate=-20];
	\draw[partline] (445,665) -- (510,632) -- (528,650) -- (465,695);
	\draw[partline] (465,665) -- (480,690);
	\draw[partline] (485,652) -- (500,675);
\end{scope}

% pipes at the foot
\begin{scope}[crop={(1280,1180)}, fineparts]
	\draw[partline] (1155,480) -- (1135,720) -- (1070,830);
	\draw[partline] (1155,480) -- (1150,740) -- (1065,865);
	\draw[partline] (1255,480) -- (1205,740) -- (1160,880);
	\draw[partline] (1258,480) -- (1258,780);
	\draw[partline] (1310,480) -- (1295,690) -- (1315,710) -- (1315,830);
	\draw[partline] (1430,480) -- (1410,760) -- (1365,790);
	\draw[partline] (1465,480) -- (1430,790);
\end{scope}

% box at lower right
\begin{scope}[crop={(800,800)},x=0.1913pt,y=-0.11475pt, fineparts]
	\draw[partline] (1320,1040) -- (1318,1370) -- (1380,1290) -- (1380,1200);
	\draw[partline] (1295,1040) -- (1290,1235) -- (1318,1250);
	\draw[partline] (1380,1200) -- (1410,1185) -- (1450,1215) -- (1490,1185) -- (1490,1100);
	\draw[partline] (1450,1100) -- (1450,1215);
\end{scope}
\end{tikzpicture}
\end{document}
